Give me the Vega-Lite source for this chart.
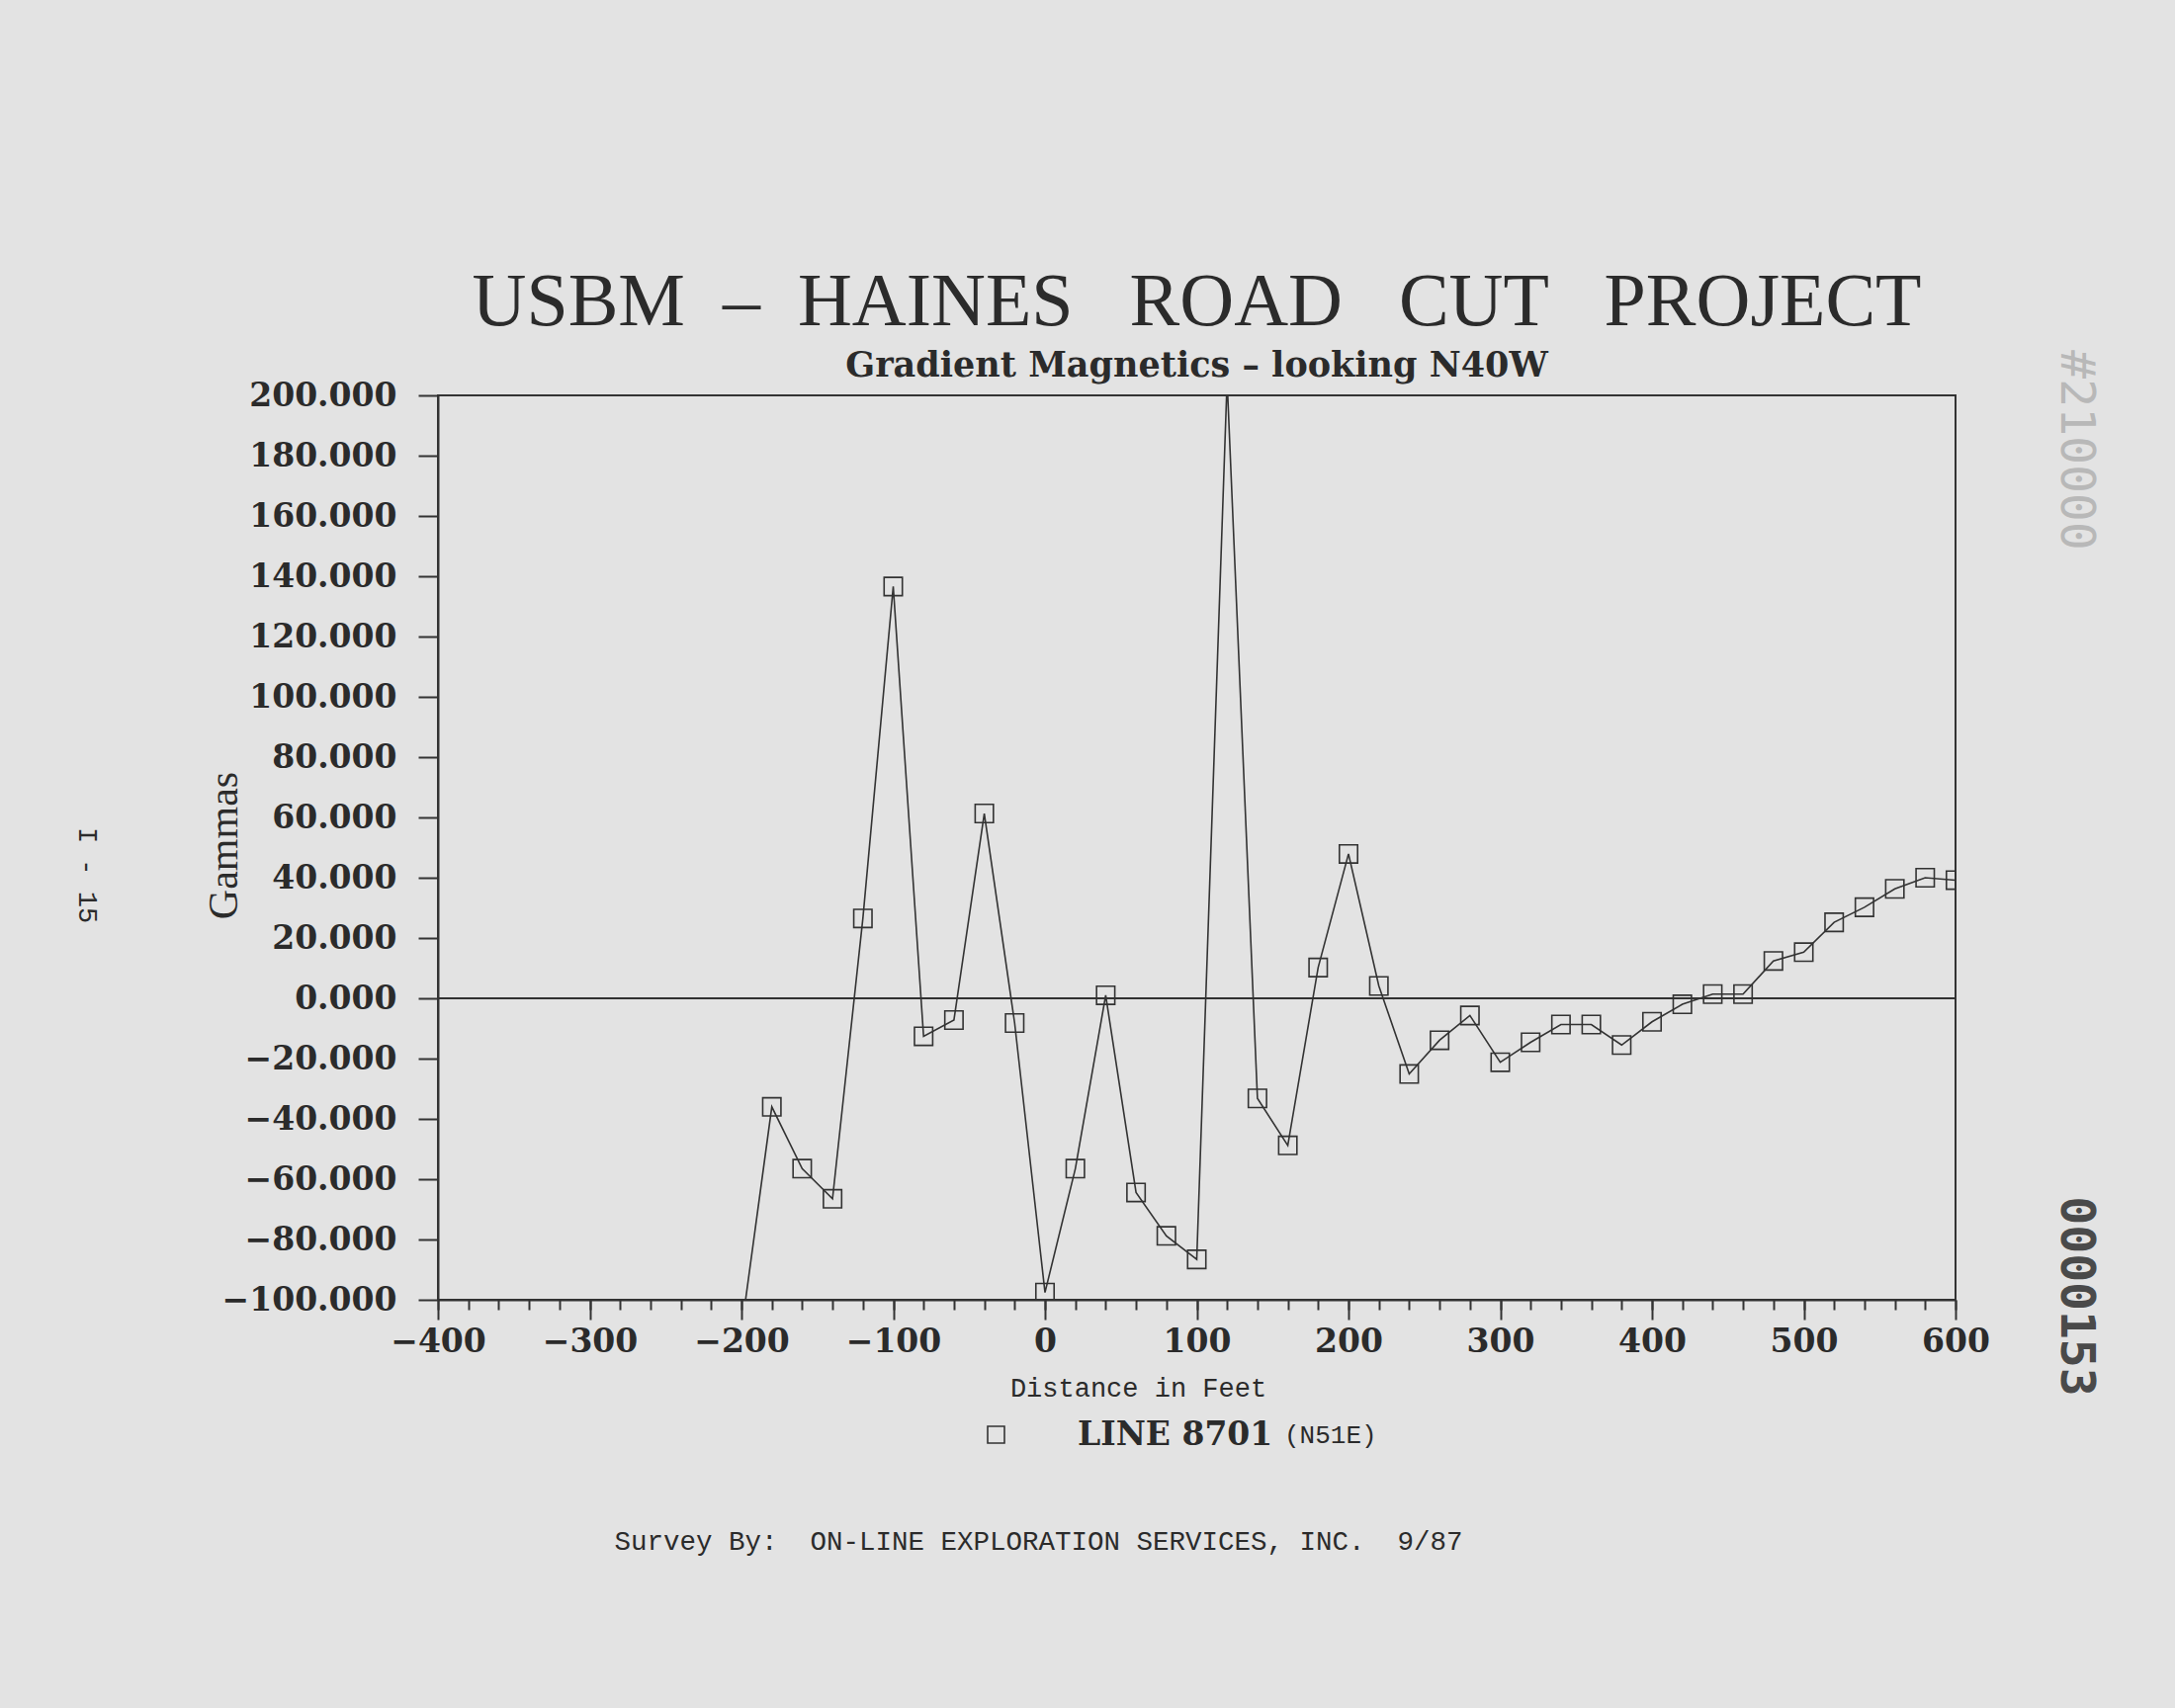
{
  "$schema": "https://vega.github.io/schema/vega-lite/v6.json",
  "width": 1535,
  "height": 915,
  "autosize": {"type": "none"},
  "padding": {"left": 443, "top": 400, "right": 222, "bottom": 413},
  "background": "#e3e3e3",
  "title": {
    "text": "USBM\u2002–\u2002HAINES \u2002ROAD \u2002CUT \u2002PROJECT",
    "subtitle": "Gradient Magnetics – looking N40W",
    "anchor": "middle",
    "frame": "group",
    "font": "Liberation Serif",
    "fontSize": 76,
    "fontWeight": "normal",
    "color": "#2b2b2b",
    "subtitleFont": "DejaVu Serif",
    "subtitleFontWeight": "bold",
    "subtitleFontSize": 35,
    "subtitleColor": "#2b2b2b",
    "subtitlePadding": 8,
    "offset": -35
  },
  "config": {
    "view": {"stroke": "#333333", "strokeWidth": 2},
    "axis": {
      "grid": false,
      "labelFont": "DejaVu Serif",
      "labelFontWeight": "bold",
      "labelFontSize": 33,
      "labelColor": "#2b2b2b",
      "labelFlush": false,
      "labelOverlap": false,
      "tickColor": "#333333",
      "tickWidth": 2,
      "domainColor": "#333333",
      "domainWidth": 2,
      "titleColor": "#2b2b2b",
      "titleFontWeight": "normal"
    }
  },
  "data": {
    "values": [
      {"distance": -200, "gammas": -110},
      {"distance": -180, "gammas": -36},
      {"distance": -160, "gammas": -56.5},
      {"distance": -140, "gammas": -66.5},
      {"distance": -120, "gammas": 26.5},
      {"distance": -100, "gammas": 136.6},
      {"distance": -80, "gammas": -12.6},
      {"distance": -60, "gammas": -7.2},
      {"distance": -40, "gammas": 61.3},
      {"distance": -20, "gammas": -8.2},
      {"distance": 0, "gammas": -97.6},
      {"distance": 20, "gammas": -56.5},
      {"distance": 40, "gammas": 1.0},
      {"distance": 60, "gammas": -64.4},
      {"distance": 80, "gammas": -78.8},
      {"distance": 100, "gammas": -86.6},
      {"distance": 120, "gammas": 205},
      {"distance": 140, "gammas": -33.2},
      {"distance": 160, "gammas": -48.8},
      {"distance": 180, "gammas": 10.2},
      {"distance": 200, "gammas": 47.9},
      {"distance": 220, "gammas": 4.1},
      {"distance": 240, "gammas": -25.1},
      {"distance": 260, "gammas": -13.9},
      {"distance": 280, "gammas": -5.7},
      {"distance": 300, "gammas": -21.2},
      {"distance": 320, "gammas": -14.6},
      {"distance": 340, "gammas": -8.7},
      {"distance": 360, "gammas": -8.7},
      {"distance": 380, "gammas": -15.5},
      {"distance": 400, "gammas": -7.8},
      {"distance": 420, "gammas": -2.0},
      {"distance": 440, "gammas": 1.4},
      {"distance": 460, "gammas": 1.4},
      {"distance": 480, "gammas": 12.4},
      {"distance": 500, "gammas": 15.3},
      {"distance": 520, "gammas": 25.2},
      {"distance": 540, "gammas": 30.2},
      {"distance": 560, "gammas": 36.3},
      {"distance": 580, "gammas": 40.0},
      {"distance": 600, "gammas": 39.2}
    ]
  },
  "layer": [
    {
      "mark": {"type": "line", "color": "#333333", "strokeWidth": 1.6, "clip": true},
      "encoding": {
        "x": {
          "field": "distance",
          "type": "quantitative",
          "scale": {"domain": [-400, 600], "nice": false, "zero": false},
          "axis": {
            "orient": "bottom",
            "values": [-400, -300, -200, -100, 0, 100, 200, 300, 400, 500, 600],
            "format": "d",
            "tickSize": 20,
            "labelPadding": 6,
            "title": "Distance in Feet",
            "titleFont": "Liberation Mono",
            "titleFontSize": 27,
            "titleX": 708,
            "titleY": 97,
            "titleAlign": "center",
            "titleBaseline": "alphabetic"
          }
        },
        "y": {
          "field": "gammas",
          "type": "quantitative",
          "scale": {"domain": [-100, 200], "nice": false, "zero": false},
          "axis": {
            "orient": "left",
            "values": [-100, -80, -60, -40, -20, 0, 20, 40, 60, 80, 100, 120, 140, 160, 180, 200],
            "format": ".3f",
            "tickSize": 20,
            "labelPadding": 22,
            "title": "Gammas",
            "titleFont": "Liberation Serif",
            "titleFontSize": 42,
            "titleAngle": 270,
            "titleX": -217,
            "titleY": 455,
            "titleAlign": "center",
            "titleBaseline": "middle"
          }
        }
      }
    },
    {
      "mark": {"type": "point", "shape": "square", "filled": false, "strokeWidth": 1.6, "size": 340, "opacity": 1, "clip": true},
      "encoding": {
        "x": {
          "field": "distance",
          "type": "quantitative",
          "scale": {"domain": [-400, 600], "nice": false, "zero": false},
          "axis": {
            "orient": "bottom",
            "values": [-400, -380, -360, -340, -320, -300, -280, -260, -240, -220, -200, -180, -160, -140, -120, -100, -80, -60, -40, -20, 0, 20, 40, 60, 80, 100, 120, 140, 160, 180, 200, 220, 240, 260, 280, 300, 320, 340, 360, 380, 400, 420, 440, 460, 480, 500, 520, 540, 560, 580, 600],
            "labels": false,
            "domain": false,
            "tickSize": 10,
            "title": "Survey By: \u00a0ON-LINE EXPLORATION SERVICES, INC. \u00a09/87",
            "titleFont": "Liberation Mono",
            "titleFontSize": 27.5,
            "titleX": 607,
            "titleY": 252,
            "titleAlign": "center",
            "titleBaseline": "alphabetic"
          }
        },
        "y": {
          "field": "gammas",
          "type": "quantitative",
          "scale": {"domain": [-100, 200], "nice": false, "zero": false},
          "axis": {
            "orient": "right",
            "labels": false,
            "ticks": false,
            "domain": false,
            "title": "0000153",
            "titleFont": "DejaVu Sans Mono",
            "titleFontWeight": "bold",
            "titleFontSize": 48,
            "titleColor": "#4a4a4a",
            "titleAngle": 90,
            "titleX": 120,
            "titleY": 911,
            "titleAlign": "center",
            "titleBaseline": "middle"
          }
        },
        "color": {
          "datum": "LINE 8701",
          "type": "nominal",
          "scale": {"range": ["#333333"]},
          "legend": {
            "orient": "none",
            "legendX": 548,
            "legendY": 1035,
            "padding": 0,
            "title": "(N51E)",
            "titleOrient": "right",
            "titleFont": "Liberation Mono",
            "titleFontSize": 26,
            "titleFontWeight": "normal",
            "titleColor": "#2b2b2b",
            "titlePadding": 12,
            "symbolType": "square",
            "symbolFillColor": "transparent",
            "symbolStrokeColor": "#333333",
            "symbolStrokeWidth": 1.6,
            "symbolSize": 289,
            "labelFont": "DejaVu Serif",
            "labelFontWeight": "bold",
            "labelFontSize": 33,
            "labelColor": "#2b2b2b",
            "labelLimit": 600,
            "labelOffset": 66
          }
        }
      }
    },
    {
      "mark": {"type": "rule", "color": "#333333", "strokeWidth": 1.6},
      "encoding": {
        "y": {
          "datum": 0,
          "type": "quantitative",
          "scale": {"domain": [-100, 200], "nice": false, "zero": false},
          "axis": {
            "orient": "right",
            "labels": false,
            "ticks": false,
            "domain": false,
            "title": "#210000",
            "titleFont": "DejaVu Sans Mono",
            "titleFontSize": 48,
            "titleColor": "#b8b8b8",
            "titleAngle": 90,
            "titleX": 120,
            "titleY": 55,
            "titleAlign": "center",
            "titleBaseline": "middle"
          }
        },
        "x": {
          "datum": -400,
          "type": "quantitative",
          "scale": {"domain": [-400, 600], "nice": false, "zero": false},
          "axis": {
            "orient": "bottom",
            "labels": false,
            "ticks": false,
            "domain": false,
            "title": "I - 15",
            "titleFont": "Liberation Mono",
            "titleFontSize": 27,
            "titleColor": "#2b2b2b",
            "titleAngle": 90,
            "titleX": -356,
            "titleY": -430,
            "titleAlign": "center",
            "titleBaseline": "middle"
          }
        },
        "x2": {"datum": 600}
      }
    }
  ],
  "resolve": {
    "scale": {"x": "independent", "y": "independent", "color": "independent"},
    "axis": {"x": "independent", "y": "independent"}
  }
}
